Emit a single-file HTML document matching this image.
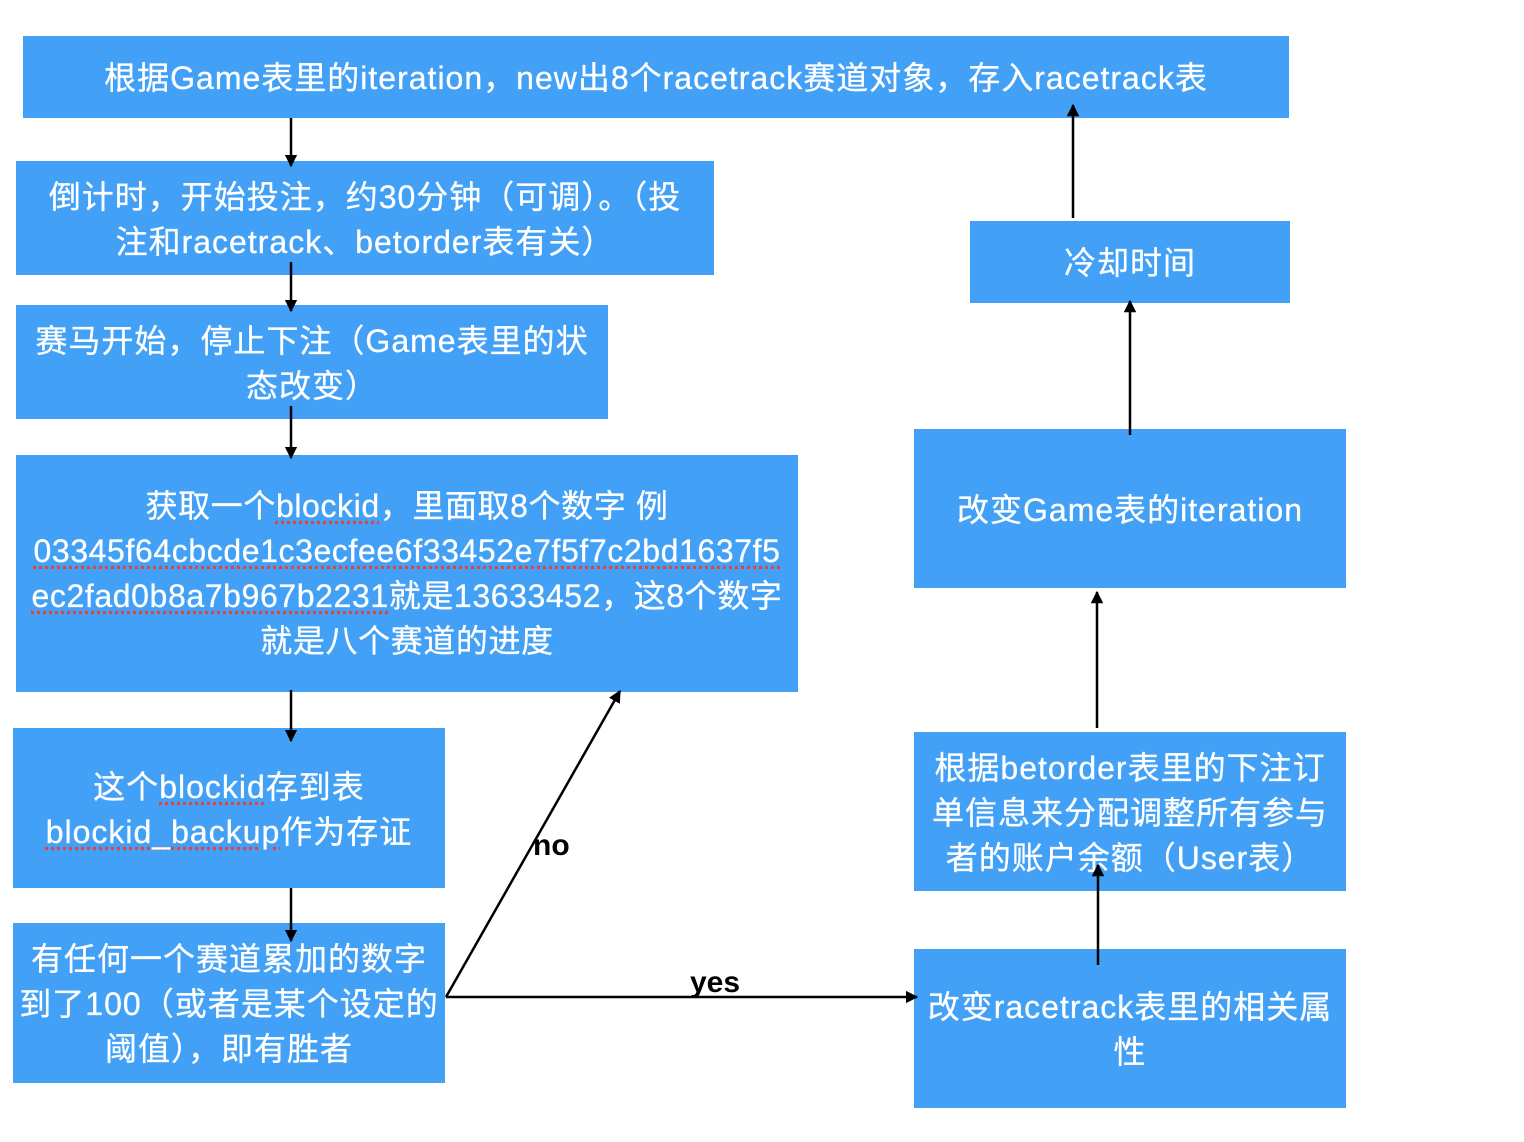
<!DOCTYPE html>
<html><head><meta charset="utf-8"><style>
body{margin:0;width:1524px;height:1142px;background:#fff;position:relative;overflow:hidden;font-family:"Liberation Sans","Noto Sans CJK SC",sans-serif}
.b{position:absolute;background:#42a1f6;color:#fff;display:flex;align-items:center;justify-content:center;text-align:center;font-size:32px;letter-spacing:1px;line-height:45px;box-sizing:border-box;padding-top:3px;-webkit-text-stroke:0.3px #fff}
.b>div{white-space:nowrap}
.u{text-decoration:underline dotted #e0443a;text-underline-offset:4px}
svg{position:absolute;left:0;top:0}
.l{position:absolute;font-weight:bold;font-size:30px;color:#000}
</style></head><body>
<div class="b" style="left:23px;top:36px;width:1266px;height:82px"><div>根据Game表里的iteration，new出8个racetrack赛道对象，存入racetrack表</div></div>
<div class="b" style="left:16px;top:161px;width:698px;height:114px"><div>倒计时，开始投注，约30分钟（可调）。（投<br>注和racetrack、betorder表有关）</div></div>
<div class="b" style="left:16px;top:305px;width:592px;height:114px"><div>赛马开始，停止下注（Game表里的状<br>态改变）</div></div>
<div class="b" style="left:16px;top:455px;width:782px;height:237px;padding-top:0;letter-spacing:0.6px"><div>获取一个<span class="u">blockid</span>，里面取8个数字 例<br><span class="u">03345f64cbcde1c3ecfee6f33452e7f5f7c2bd1637f5</span><br><span class="u">ec2fad0b8a7b967b2231</span>就是13633452，这8个数字<br>就是八个赛道的进度</div></div>
<div class="b" style="left:13px;top:728px;width:432px;height:160px"><div>这个<span class="u">blockid</span>存到表<br><span class="u">blockid_backup</span>作为存证</div></div>
<div class="b" style="left:13px;top:923px;width:432px;height:160px"><div>有任何一个赛道累加的数字<br>到了100（或者是某个设定的<br>阈值），即有胜者</div></div>
<div class="b" style="left:914px;top:949px;width:432px;height:159px"><div>改变racetrack表里的相关属<br>性</div></div>
<div class="b" style="left:914px;top:732px;width:432px;height:159px"><div>根据betorder表里的下注订<br>单信息来分配调整所有参与<br>者的账户余额（User表）</div></div>
<div class="b" style="left:914px;top:429px;width:432px;height:159px"><div>改变Game表的iteration</div></div>
<div class="b" style="left:970px;top:221px;width:320px;height:82px"><div>冷却时间</div></div>
<svg width="1524" height="1142">
<defs><marker id="a" viewBox="0 0 10 10" refX="9" refY="5" markerWidth="5" markerHeight="5" orient="auto"><path d="M0,0L10,5L0,10z" fill="#000"/></marker></defs>
<g stroke="#000" stroke-width="2.5" fill="none" marker-end="url(#a)">
<line x1="291" y1="118" x2="291" y2="166"/>
<line x1="291" y1="262" x2="291" y2="311"/>
<line x1="291" y1="406" x2="291" y2="458"/>
<line x1="291" y1="690" x2="291" y2="741"/>
<line x1="291" y1="888" x2="291" y2="941"/>
<line x1="446" y1="997" x2="620" y2="691"/>
<line x1="446" y1="997" x2="917" y2="997"/>
<line x1="1098" y1="965" x2="1098" y2="865"/>
<line x1="1097" y1="728" x2="1097" y2="592"/>
<line x1="1130" y1="435" x2="1130" y2="301"/>
<line x1="1073" y1="218" x2="1073" y2="105"/>
</g></svg>
<div class="l" style="left:533px;top:829px">no</div>
<div class="l" style="left:690px;top:966px">yes</div>
</body></html>
